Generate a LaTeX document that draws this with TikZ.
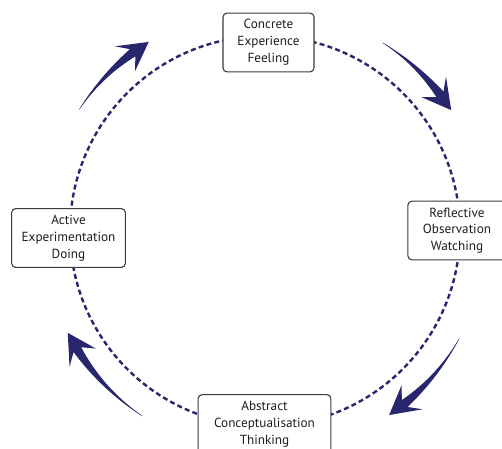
\documentclass[tikz,border=0pt]{standalone}
\usepackage{fontspec}
\setmainfont{PT Sans}
\usepackage{tikz}
\definecolor{cyclenavy}{RGB}{40,38,108}
\definecolor{boxgrey}{RGB}{60,60,60}
\definecolor{textgrey}{RGB}{30,30,30}
\tikzset{>=latex}
\tikzset{
  stage/.style={draw=boxgrey, line width=1.1pt, rounded corners=4pt, fill=white,
    align=center, inner xsep=13pt, inner ysep=6.5pt, minimum width=91pt,
    text=textgrey, font=\fontsize{13.2}{16.8}\selectfont},
  cycleline/.style={draw=cyclenavy, line width=2.4pt, dash pattern=on 5pt off 3.2pt},
  sweepfill/.style={fill=cyclenavy}
}
% tapered curved arrow around the hub: #1 tail angle, #2 tip angle
\newcommand{\sweeparrow}[2]{%
  \pgfmathsetmacro{\neckang}{#2+5}
  \pgfmathsetmacro{\barbang}{#2+7.5}
  \fill[sweepfill] plot[domain=#1:\neckang, samples=30]
      (\x:{222.2+4.3*(0.4*((#1-\x)/(#1-\neckang))+0.6*((#1-\x)/(#1-\neckang))*((#1-\x)/(#1-\neckang)))})
    -- (\barbang:238) -- (#2:222) -- (\barbang:206)
    -- plot[domain=\neckang:#1, samples=30]
      (\x:{221.8-4.3*(0.4*((#1-\x)/(#1-\neckang))+0.6*((#1-\x)/(#1-\neckang))*((#1-\x)/(#1-\neckang)))}) -- cycle;
}

\begin{document}
\begin{tikzpicture}[x=1pt, y=1pt]
        \useasboundingbox (0,0) rectangle (502,448);
        \clip (0,0) rectangle (502,448);
        \coordinate (hub) at (265,217);
        \draw[cycleline] (hub) circle (195);

        \begin{scope}[shift={(hub)}]
            \sweeparrow{58}{33}
            \sweeparrow{331}{304}
            \sweeparrow{236.5}{207.3}
            \sweeparrow{146.8}{121.6}
        \end{scope}

        \node[stage] (concrete) at (268.5,405.5) {Concrete\\Experience\\Feeling};
        \node[stage, inner xsep=15pt] (reflective) at (457,217.5) {Reflective\\Observation\\Watching};
        \node[stage, inner xsep=16pt] (abstract) at (264.5,24) {Abstract\\Conceptualisation\\Thinking};
        \node[stage, inner xsep=10pt] (active) at (68.5,210) {Active\\Experimentation\\Doing};
\end{tikzpicture}
\end{document}
